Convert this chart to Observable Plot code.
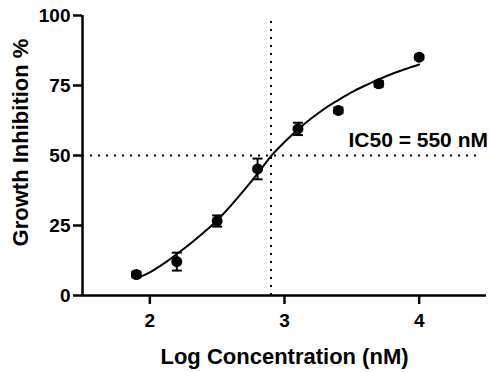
<!DOCTYPE html>
<html>
<head>
<meta charset="utf-8">
<script src="https://cdn.jsdelivr.net/npm/d3@7"></script>
<script src="https://cdn.jsdelivr.net/npm/@observablehq/plot@0.6"></script>
<style>
  html, body { margin: 0; padding: 0; background: #fff; }
  #chart svg { display: block; }
</style>
</head>
<body>
<div id="chart"></div>
<script>
// Measured data (log concentration, % inhibition, error)
const logConc = [1.9, 2.2, 2.5, 2.8, 3.1, 3.4, 3.7, 4.0];
const inhibition = [7.5, 12.1, 26.6, 45.2, 59.5, 66.1, 75.6, 85.1];
const errors = [1.0, 3.2, 2.0, 3.7, 2.2, 1.0, 1.0, 0.8];

// Fitted curve
const fitX = [1.9, 2.0, 2.1, 2.2, 2.3, 2.4, 2.5, 2.6, 2.7, 2.8, 2.9, 3.0, 3.1, 3.2, 3.3, 3.4, 3.5, 3.6, 3.7, 3.8, 3.9, 4.0];
const fitY = [6.2, 8.3, 11.3, 14.8, 18.5, 22.5, 26.8, 32.0, 37.6, 43.5, 49.8, 54.8, 59.3, 63.3, 66.8, 69.8, 72.6, 75.0, 77.2, 79.2, 80.9, 82.5];

const xTicks = [2, 3, 4];
const yTicks = [0, 25, 50, 75, 100];
const ic50X = [2.9];
const halfY = [50];
const annotation = [{x: 3.475, y: 55.4, text: "IC50 = 550 nM"}];
const xTitle = ["Log Concentration (nM)"];
const yTitle = ["Growth Inhibition %"];

const points = logConc.map((x, i) => ({x, y: inhibition[i], lo: inhibition[i] - errors[i], hi: inhibition[i] + errors[i]}));
const fit = fitX.map((x, i) => ({x, y: fitY[i]}));

const cap = {
  draw(ctx, size) {
    const w = Math.sqrt(size / Math.PI);
    ctx.moveTo(-w, 0);
    ctx.lineTo(w, 0);
  }
};

const font = "'Liberation Sans', Arial, sans-serif";

const chart = Plot.plot({
  width: 490,
  height: 372,
  marginLeft: 82,
  marginRight: 4,
  marginTop: 15,
  marginBottom: 77,
  style: {fontFamily: font, fontWeight: "bold", color: "#000", background: "#fff"},
  x: {domain: [1.5, 4.5]},
  y: {domain: [0, 100]},
  marks: [
    // dotted reference lines
    Plot.ruleY(halfY, {x1: 1.5, x2: 4.44, stroke: "#000", strokeWidth: 2, strokeDasharray: "2 6", strokeLinecap: "butt"}),
    Plot.ruleX(ic50X, {y1: 0, y2: 100, stroke: "#000", strokeWidth: 2, strokeDasharray: "2 6"}),
    // axes
    Plot.axisX({ticks: xTicks, tickSize: 9, tickPadding: 9, fontSize: 19, strokeWidth: 2.5, label: null, tickFormat: d => String(d)}),
    Plot.axisY({ticks: yTicks, tickSize: 9, tickPadding: 3, fontSize: 19, strokeWidth: 2.5, label: null}),
    Plot.ruleX([1.5], {y1: 0, y2: 100, stroke: "#000", strokeWidth: 2.5}),
    Plot.ruleY([0], {stroke: "#000", strokeWidth: 2.5}),
    // fitted curve
    Plot.line(fit, {x: "x", y: "y", curve: "monotone-x", stroke: "#000", strokeWidth: 2}),
    // error bars
    Plot.ruleX(points, {x: "x", y1: "lo", y2: "hi", stroke: "#000", strokeWidth: 2}),
    Plot.dot(points, {x: "x", y: "hi", symbol: cap, r: 5, stroke: "#000", strokeWidth: 2, fill: "none"}),
    Plot.dot(points, {x: "x", y: "lo", symbol: cap, r: 5, stroke: "#000", strokeWidth: 2, fill: "none"}),
    // points
    Plot.dot(points, {x: "x", y: "y", r: 5.5, fill: "#000", stroke: "none"}),
    // annotation
    Plot.text(annotation, {x: "x", y: "y", text: "text", textAnchor: "start", fontSize: 21, fontWeight: "bold", fill: "#000"}),
    // axis titles
    Plot.text(xTitle, {text: d => d, frameAnchor: "bottom", dy: 61, textAnchor: "middle", lineAnchor: "middle", fontSize: 22, fontWeight: "bold", fill: "#000"}),
    Plot.text(yTitle, {text: d => d, frameAnchor: "left", dx: -62, dy: -13, rotate: -90, textAnchor: "middle", lineAnchor: "middle", fontSize: 22, fontWeight: "bold", fill: "#000"})
  ]
});

document.getElementById("chart").appendChild(chart);
</script>
</body>
</html>
